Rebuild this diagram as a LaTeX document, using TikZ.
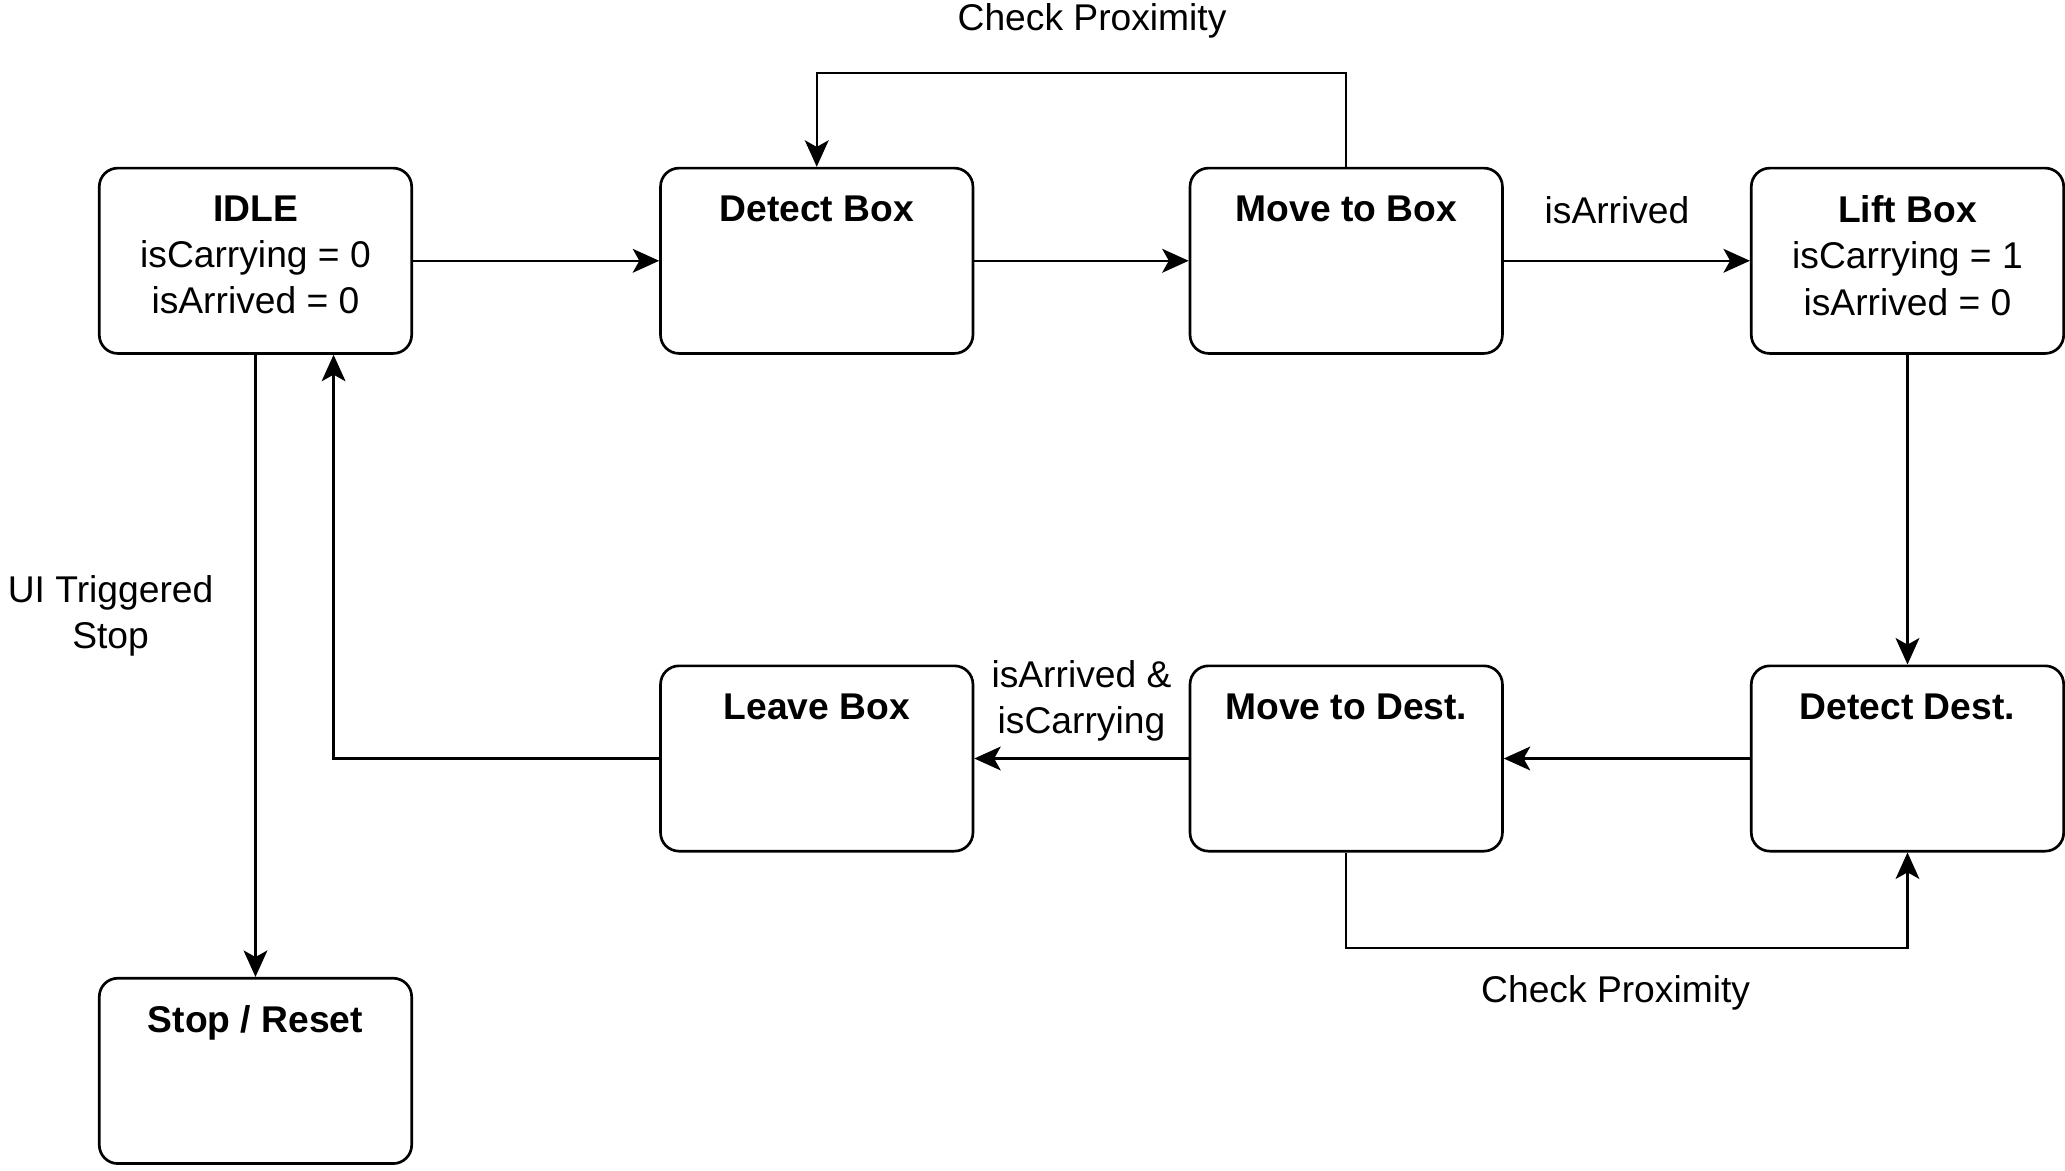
\documentclass[tikz,border=0pt]{standalone}
\usepackage{fontspec}
\setmainfont{Liberation Sans}
\usetikzlibrary{arrows.meta,positioning}

\tikzset{
  state/.style={draw, rounded corners=0.28cm, line width=1.15pt,
    minimum width=4.72cm, minimum height=2.8cm, inner sep=0pt},
  head/.style={anchor=north, inner sep=0pt, yshift=-0.42cm, align=center},
  lbl/.style={inner sep=0pt, align=center},
}

\begin{document}
\begin{tikzpicture}[>={Stealth[length=4mm,width=3.6mm,inset=1mm]}, line width=0.95pt,
  font=\fontsize{16}{19.9}\selectfont]
  \useasboundingbox (0,0) rectangle (31.2,-17.69);

  % States, top row
  \node[state, label={[head]north:{\textbf{IDLE}\\isCarrying = 0\\isArrived = 0}}] (idle) at (3.86,-3.94) {};
  \node[state, label={[head]north:{\textbf{Detect Box}}}] (detbox) at (12.34,-3.94) {};
  \node[state, label={[head]north:{\textbf{Move to Box}}}] (movebox) at (20.34,-3.94) {};
  \node[state, label={[head]north:{\textbf{Lift Box}\\isCarrying = 1\\isArrived = 0}}] (lift) at (28.82,-3.94) {};

  % States, bottom row
  \node[state, label={[head]north:{\textbf{Leave Box}}}] (leave) at (12.34,-11.46) {};
  \node[state, label={[head]north:{\textbf{Move to Dest.}}}] (movedest) at (20.34,-11.46) {};
  \node[state, label={[head]north:{\textbf{Detect Dest.}}}] (detdest) at (28.82,-11.46) {};
  \node[state, label={[head]north:{\textbf{Stop / Reset}}}] (stop) at (3.86,-16.18) {};

  % Way to the box
  \draw[->] (idle) -- (detbox);
  \draw[->] (detbox) -- (movebox);
  \draw[->] (movebox) -- node[lbl, pos=0.46, above=0.54cm] {isArrived} (lift);
  \draw[->] (movebox.north) -- ++(0,1.42) -| node[lbl, pos=0.24, above=0.5cm] {Check Proximity} (detbox.north);

  % Way to the destination
  \draw[->] (lift) -- (detdest);
  \draw[->] (detdest) -- (movedest);
  \draw[->] (movedest) -- node[lbl, midway, above=0.24cm] {isArrived \&\\isCarrying} (leave);
  \draw[->] (movedest.south) -- ++(0,-1.44) -| node[lbl, pos=0.24, below=0.4cm] {Check Proximity} (detdest.south);

  % Back to idle, and stop
  \draw[->] (leave.west) -| ([xshift=1.18cm]idle.south);
  \draw[->] (idle) -- node[lbl, pos=0.42, left=0.62cm] {UI Triggered\\Stop} (stop);
\end{tikzpicture}
\end{document}
